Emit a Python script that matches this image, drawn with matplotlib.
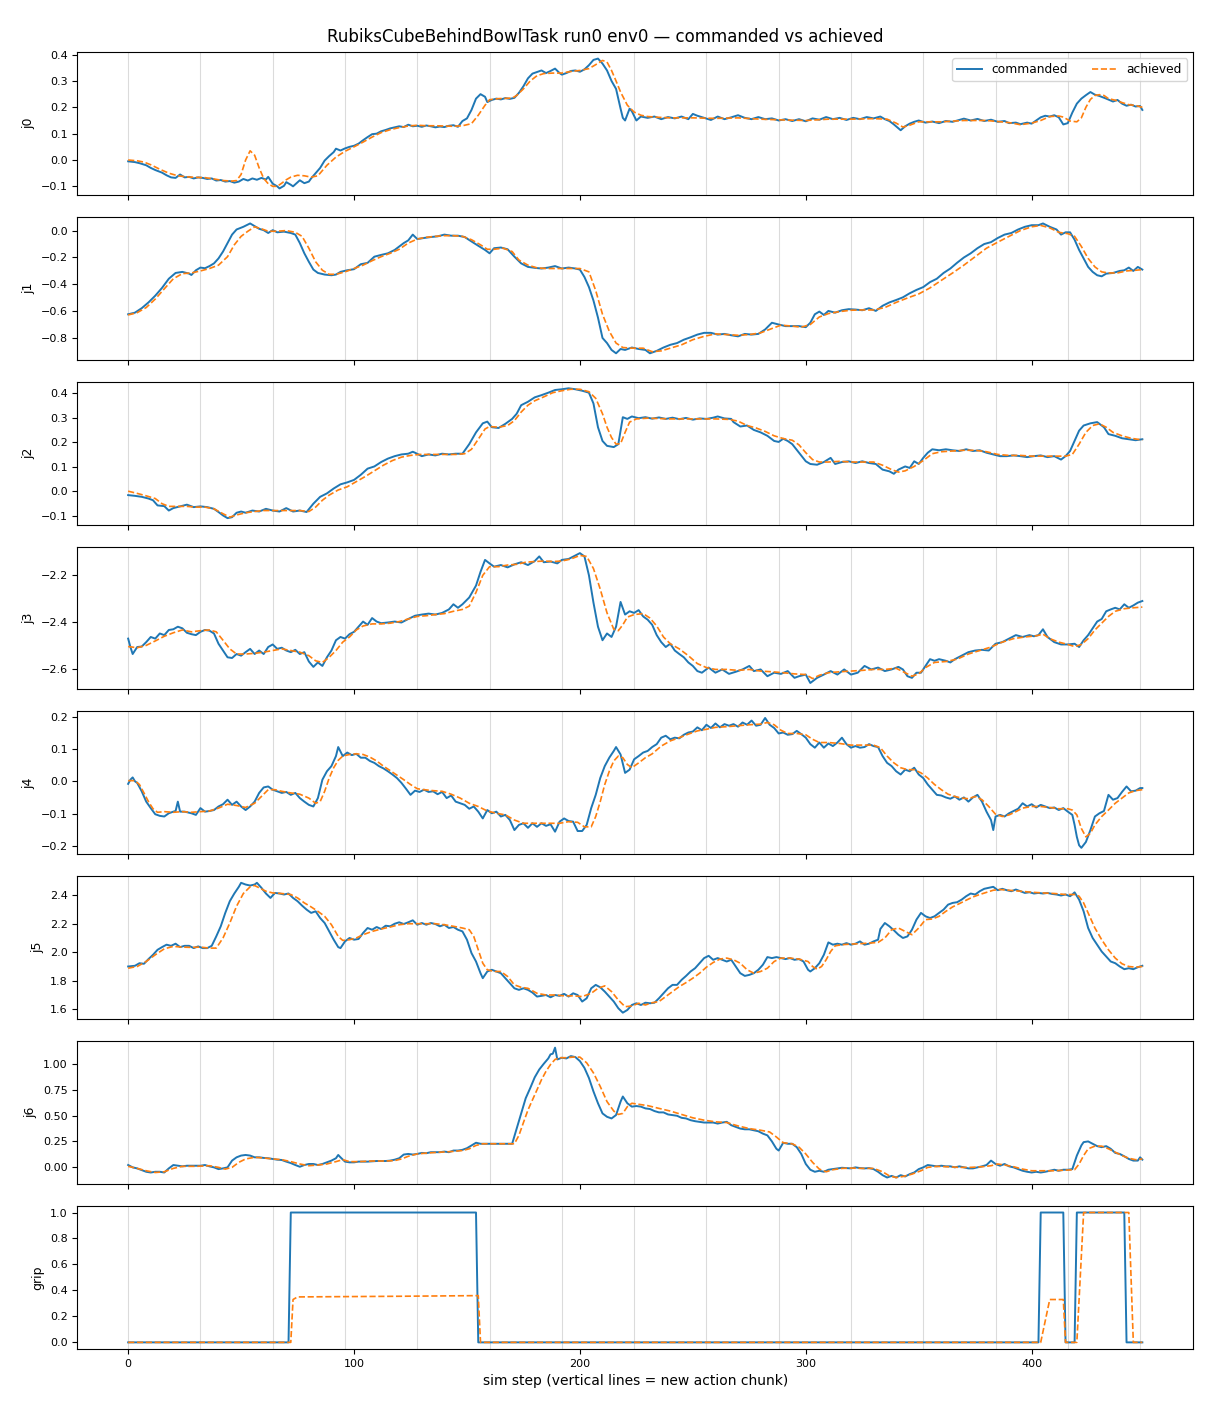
import matplotlib
matplotlib.use("Agg")
import matplotlib.pyplot as plt

# (sim step, value) pairs
j0_cmd = [(0,-0.005),(3,-0.008),(5,-0.012),(8,-0.02),(10,-0.03),(12,-0.038),(15,-0.048),(17,-0.058),(19,-0.066),(21,-0.068),(23,-0.055),(25,-0.066),(27,-0.064),(29,-0.07),(31,-0.066),(33,-0.068),(35,-0.072),(37,-0.07),(39,-0.078),(41,-0.076),(43,-0.082),(45,-0.08),(47,-0.086),(49,-0.082),(51,-0.072),(53,-0.078),(55,-0.07),(57,-0.075),(59,-0.068),(61,-0.074),(62,-0.064),(64,-0.09),(66,-0.1),(67,-0.108),(69,-0.098),(70,-0.084),(72,-0.094),(73,-0.1),(75,-0.085),(76,-0.077),(78,-0.088),(80,-0.082),(81,-0.07),(83,-0.05),(85,-0.03),(87,-0.002),(89,0.015),(91,0.03),(92,0.043),(94,0.036),(96,0.044),(98,0.05),(100,0.054),(102,0.062),(104,0.075),(106,0.087),(108,0.098),(110,0.1),(112,0.109),(114,0.114),(116,0.12),(118,0.124),(120,0.128),(122,0.125),(124,0.134),(126,0.128),(128,0.13),(130,0.126),(132,0.131),(134,0.128),(136,0.124),(138,0.127),(140,0.125),(142,0.13),(144,0.132),(146,0.126),(148,0.148),(150,0.158),(152,0.19),(154,0.233),(156,0.25),(158,0.24),(159,0.22),(161,0.228),(163,0.233),(165,0.23),(167,0.235),(169,0.232),(171,0.236),(173,0.255),(175,0.28),(177,0.31),(179,0.328),(181,0.334),(183,0.34),(185,0.33),(187,0.338),(189,0.347),(191,0.33),(192,0.324),(194,0.33),(196,0.338),(198,0.34),(200,0.335),(202,0.344),(204,0.36),(206,0.38),(208,0.385),(210,0.366),(212,0.34),(214,0.3),(216,0.27),(218,0.195),(219,0.16),(220,0.15),(222,0.195),(223,0.185),(225,0.15),(227,0.165),(230,0.16),(233,0.165),(236,0.155),(239,0.163),(242,0.158),(245,0.165),(248,0.155),(250,0.175),(252,0.168),(255,0.16),(258,0.152),(261,0.165),(264,0.155),(267,0.162),(270,0.17),(273,0.16),(276,0.155),(279,0.163),(282,0.155),(285,0.158),(288,0.15),(291,0.155),(294,0.148),(297,0.155),(300,0.147),(303,0.158),(306,0.153),(309,0.163),(312,0.155),(315,0.16),(318,0.152),(321,0.16),(324,0.155),(327,0.163),(330,0.158),(333,0.165),(335,0.155),(337,0.148),(339,0.135),(341,0.12),(342,0.113),(344,0.128),(346,0.138),(348,0.145),(350,0.15),(353,0.142),(356,0.146),(359,0.14),(362,0.148),(365,0.145),(368,0.152),(370,0.157),(373,0.15),(376,0.156),(379,0.148),(382,0.153),(385,0.145),(388,0.148),(390,0.14),(393,0.142),(395,0.136),(398,0.142),(400,0.138),(402,0.15),(404,0.162),(406,0.168),(408,0.165),(410,0.17),(412,0.162),(414,0.135),(416,0.14),(418,0.18),(420,0.214),(422,0.233),(424,0.246),(426,0.258),(428,0.248),(430,0.243),(433,0.233),(436,0.222),(438,0.228),(440,0.214),(442,0.206),(444,0.21),(446,0.203),(448,0.205),(449,0.19)]
j0_ach = [(0,0.0),(4,-0.003),(7,-0.008),(10,-0.018),(14,-0.035),(18,-0.05),(22,-0.06),(26,-0.064),(30,-0.066),(34,-0.067),(38,-0.072),(42,-0.078),(46,-0.08),(48,-0.078),(50,-0.055),(52,0.0),(54,0.035),(56,0.018),(58,-0.03),(60,-0.07),(62,-0.09),(64,-0.1),(66,-0.1),(68,-0.088),(70,-0.075),(72,-0.065),(75,-0.058),(78,-0.06),(81,-0.065),(84,-0.06),(86,-0.04),(88,-0.02),(92,0.011),(96,0.033),(100,0.05),(104,0.068),(108,0.087),(112,0.104),(116,0.115),(120,0.123),(124,0.129),(128,0.132),(132,0.13),(136,0.13),(140,0.129),(144,0.128),(148,0.13),(152,0.138),(155,0.17),(158,0.208),(160,0.229),(164,0.233),(170,0.235),(172,0.245),(175,0.27),(178,0.3),(181,0.32),(184,0.328),(188,0.33),(192,0.33),(196,0.336),(200,0.34),(204,0.347),(207,0.362),(210,0.378),(212,0.372),(214,0.34),(216,0.3),(218,0.258),(221,0.208),(224,0.182),(227,0.17),(230,0.165),(235,0.162),(240,0.16),(250,0.16),(260,0.158),(270,0.16),(280,0.155),(290,0.152),(300,0.15),(310,0.155),(320,0.155),(330,0.157),(336,0.155),(340,0.14),(343,0.125),(346,0.132),(350,0.145),(355,0.145),(360,0.145),(370,0.15),(380,0.15),(390,0.142),(395,0.134),(400,0.14),(404,0.15),(408,0.165),(412,0.167),(414,0.163),(417,0.148),(420,0.145),(422,0.16),(424,0.2),(426,0.23),(428,0.245),(430,0.248),(432,0.245),(434,0.233),(437,0.227),(440,0.218),(443,0.21),(446,0.207),(449,0.2)]

j1_cmd = [(0,-0.622),(3,-0.61),(6,-0.577),(9,-0.534),(12,-0.484),(15,-0.426),(18,-0.358),(21,-0.315),(24,-0.307),(27,-0.32),(28,-0.33),(30,-0.295),(32,-0.275),(34,-0.28),(36,-0.264),(38,-0.244),(40,-0.207),(42,-0.156),(44,-0.093),(46,-0.03),(48,0.008),(51,0.028),(54,0.053),(56,0.033),(58,0.013),(60,0.003),(62,-0.018),(64,0.003),(66,-0.013),(69,-0.008),(72,-0.018),(74,-0.03),(76,-0.093),(78,-0.169),(80,-0.232),(82,-0.29),(84,-0.315),(87,-0.327),(90,-0.332),(92,-0.327),(94,-0.307),(97,-0.295),(100,-0.287),(103,-0.25),(106,-0.24),(109,-0.194),(112,-0.181),(115,-0.169),(118,-0.144),(120,-0.118),(122,-0.093),(124,-0.073),(126,-0.03),(128,-0.063),(131,-0.055),(134,-0.048),(137,-0.043),(140,-0.03),(143,-0.038),(146,-0.038),(149,-0.048),(152,-0.081),(155,-0.113),(158,-0.144),(160,-0.169),(162,-0.131),(165,-0.126),(168,-0.139),(171,-0.194),(174,-0.244),(177,-0.27),(180,-0.277),(183,-0.282),(186,-0.275),(189,-0.264),(192,-0.282),(195,-0.275),(198,-0.282),(200,-0.29),(202,-0.345),(204,-0.42),(206,-0.52),(208,-0.647),(210,-0.798),(212,-0.836),(214,-0.887),(216,-0.912),(218,-0.88),(220,-0.887),(223,-0.869),(226,-0.88),(229,-0.887),(231,-0.912),(234,-0.894),(237,-0.869),(240,-0.849),(243,-0.836),(246,-0.811),(249,-0.793),(252,-0.773),(255,-0.76),(258,-0.76),(261,-0.773),(264,-0.768),(267,-0.778),(270,-0.786),(273,-0.768),(276,-0.773),(279,-0.768),(282,-0.735),(285,-0.685),(288,-0.698),(291,-0.71),(294,-0.71),(297,-0.71),(300,-0.718),(302,-0.685),(304,-0.622),(306,-0.602),(308,-0.627),(310,-0.597),(313,-0.61),(316,-0.592),(319,-0.584),(322,-0.587),(325,-0.592),(328,-0.577),(331,-0.597),(334,-0.559),(337,-0.534),(340,-0.516),(343,-0.496),(346,-0.466),(349,-0.441),(352,-0.42),(355,-0.383),(358,-0.358),(361,-0.315),(364,-0.282),(367,-0.239),(370,-0.2),(373,-0.169),(376,-0.131),(379,-0.1),(382,-0.086),(385,-0.055),(388,-0.03),(391,-0.018),(394,0.008),(397,0.028),(400,0.04),(403,0.04),(405,0.053),(408,0.028),(411,0.008),(413,-0.03),(415,-0.013),(417,-0.013),(419,-0.068),(421,-0.144),(423,-0.207),(425,-0.27),(427,-0.307),(429,-0.332),(431,-0.34),(433,-0.32),(436,-0.315),(439,-0.3),(441,-0.295),(443,-0.275),(445,-0.3),(447,-0.27),(449,-0.29)]
j1_ach = [(0,-0.627),(4,-0.61),(8,-0.572),(12,-0.509),(16,-0.433),(20,-0.358),(24,-0.32),(28,-0.315),(32,-0.3),(36,-0.282),(40,-0.257),(44,-0.194),(47,-0.106),(50,-0.043),(53,-0.005),(56,0.028),(59,0.013),(62,-0.005),(66,-0.005),(70,0.0),(74,-0.013),(77,-0.043),(80,-0.131),(83,-0.232),(86,-0.295),(89,-0.325),(92,-0.325),(96,-0.307),(100,-0.282),(104,-0.257),(108,-0.224),(112,-0.194),(116,-0.169),(120,-0.139),(124,-0.093),(128,-0.063),(132,-0.05),(136,-0.043),(140,-0.038),(144,-0.038),(148,-0.043),(152,-0.068),(156,-0.106),(159,-0.139),(162,-0.139),(166,-0.131),(170,-0.156),(173,-0.219),(177,-0.257),(181,-0.277),(185,-0.282),(190,-0.282),(195,-0.282),(200,-0.282),(204,-0.307),(207,-0.446),(210,-0.622),(213,-0.748),(216,-0.836),(219,-0.869),(223,-0.874),(228,-0.874),(232,-0.9),(236,-0.894),(240,-0.874),(245,-0.849),(250,-0.811),(255,-0.786),(260,-0.768),(265,-0.773),(270,-0.778),(275,-0.773),(280,-0.76),(285,-0.728),(289,-0.703),(294,-0.71),(298,-0.718),(302,-0.698),(306,-0.642),(310,-0.617),(315,-0.602),(320,-0.592),(325,-0.59),(330,-0.59),(335,-0.572),(340,-0.534),(345,-0.501),(350,-0.471),(355,-0.426),(360,-0.37),(365,-0.315),(370,-0.257),(375,-0.194),(380,-0.131),(385,-0.086),(390,-0.043),(395,0.0),(400,0.028),(404,0.038),(408,0.02),(412,-0.013),(416,-0.023),(419,-0.043),(422,-0.118),(425,-0.207),(428,-0.27),(431,-0.307),(434,-0.315),(438,-0.315),(442,-0.3),(446,-0.295),(449,-0.29)]

j2_cmd = [(0,-0.015),(3,-0.018),(6,-0.022),(9,-0.029),(11,-0.036),(13,-0.057),(16,-0.06),(18,-0.078),(20,-0.068),(23,-0.061),(26,-0.054),(29,-0.064),(32,-0.061),(35,-0.064),(38,-0.071),(40,-0.084),(42,-0.098),(44,-0.109),(46,-0.105),(48,-0.087),(50,-0.082),(52,-0.087),(55,-0.078),(58,-0.082),(61,-0.071),(64,-0.078),(67,-0.082),(70,-0.068),(73,-0.082),(76,-0.078),(79,-0.084),(82,-0.05),(85,-0.022),(88,-0.008),(91,0.012),(94,0.029),(97,0.037),(100,0.047),(103,0.068),(106,0.093),(109,0.102),(112,0.12),(115,0.134),(118,0.144),(121,0.151),(124,0.154),(126,0.162),(127,0.158),(130,0.144),(133,0.151),(136,0.147),(139,0.154),(142,0.151),(145,0.154),(148,0.154),(151,0.193),(154,0.241),(157,0.278),(159,0.285),(161,0.262),(164,0.259),(167,0.276),(170,0.296),(172,0.317),(174,0.352),(177,0.366),(180,0.384),(183,0.393),(186,0.403),(189,0.414),(192,0.417),(195,0.421),(198,0.417),(201,0.411),(204,0.403),(206,0.359),(208,0.262),(210,0.206),(212,0.186),(215,0.181),(217,0.193),(219,0.303),(221,0.296),(223,0.306),(226,0.299),(229,0.303),(232,0.297),(235,0.302),(238,0.296),(241,0.301),(244,0.295),(247,0.3),(250,0.293),(253,0.298),(256,0.296),(259,0.301),(261,0.306),(264,0.298),(267,0.296),(268,0.283),(271,0.265),(274,0.269),(277,0.251),(280,0.241),(283,0.227),(286,0.206),(288,0.202),(290,0.215),(292,0.206),(294,0.193),(297,0.158),(300,0.123),(302,0.112),(305,0.109),(308,0.12),(311,0.137),(313,0.112),(316,0.12),(319,0.123),(322,0.116),(325,0.123),(328,0.116),(331,0.112),(334,0.089),(337,0.082),(339,0.072),(341,0.089),(344,0.102),(346,0.096),(348,0.123),(350,0.112),(352,0.137),(354,0.158),(356,0.172),(359,0.168),(362,0.172),(365,0.168),(368,0.165),(371,0.172),(374,0.165),(377,0.168),(380,0.158),(383,0.151),(386,0.144),(389,0.144),(392,0.147),(395,0.144),(398,0.14),(401,0.144),(404,0.147),(407,0.14),(410,0.144),(413,0.13),(415,0.144),(417,0.165),(419,0.206),(421,0.248),(423,0.269),(426,0.278),(429,0.283),(432,0.262),(434,0.234),(437,0.227),(440,0.217),(443,0.213),(446,0.209),(449,0.213)]
j2_ach = [(0,0.001),(4,-0.008),(8,-0.018),(12,-0.029),(15,-0.05),(18,-0.061),(22,-0.061),(26,-0.061),(30,-0.064),(34,-0.064),(38,-0.071),(42,-0.091),(45,-0.105),(48,-0.096),(52,-0.087),(56,-0.082),(60,-0.078),(64,-0.078),(68,-0.078),(72,-0.078),(76,-0.078),(80,-0.082),(83,-0.064),(86,-0.036),(89,-0.015),(93,0.006),(97,0.019),(101,0.04),(105,0.061),(109,0.084),(113,0.107),(117,0.126),(121,0.14),(125,0.147),(129,0.151),(133,0.151),(137,0.151),(141,0.151),(145,0.151),(149,0.154),(152,0.172),(155,0.213),(158,0.255),(160,0.265),(164,0.262),(168,0.269),(171,0.289),(174,0.324),(177,0.352),(180,0.37),(184,0.386),(188,0.403),(192,0.411),(196,0.417),(200,0.417),(204,0.407),(207,0.38),(210,0.317),(212,0.262),(214,0.22),(216,0.193),(218,0.195),(220,0.241),(222,0.283),(225,0.296),(230,0.299),(240,0.296),(250,0.296),(260,0.296),(266,0.294),(270,0.287),(274,0.269),(278,0.259),(282,0.245),(286,0.227),(290,0.216),(294,0.209),(297,0.19),(300,0.158),(303,0.13),(306,0.12),(310,0.12),(315,0.123),(320,0.12),(325,0.12),(330,0.12),(334,0.107),(338,0.089),(341,0.079),(344,0.084),(348,0.102),(352,0.126),(356,0.154),(360,0.162),(365,0.165),(370,0.168),(375,0.168),(380,0.162),(385,0.151),(390,0.147),(395,0.147),(400,0.144),(405,0.144),(410,0.144),(415,0.144),(418,0.151),(421,0.193),(424,0.241),(427,0.269),(430,0.276),(433,0.262),(436,0.241),(440,0.227),(444,0.217),(449,0.21)]

j3_cmd = [(0,-2.471),(1,-2.507),(2,-2.537),(4,-2.507),(6,-2.505),(8,-2.486),(10,-2.464),(12,-2.471),(14,-2.449),(16,-2.456),(18,-2.434),(20,-2.431),(22,-2.42),(24,-2.427),(26,-2.446),(28,-2.452),(30,-2.456),(32,-2.442),(34,-2.434),(36,-2.437),(38,-2.449),(40,-2.493),(42,-2.522),(44,-2.551),(46,-2.554),(48,-2.537),(50,-2.544),(52,-2.529),(54,-2.515),(56,-2.537),(58,-2.522),(60,-2.537),(62,-2.507),(64,-2.496),(66,-2.515),(68,-2.51),(70,-2.522),(72,-2.529),(74,-2.519),(76,-2.537),(78,-2.529),(80,-2.569),(82,-2.592),(84,-2.573),(86,-2.588),(88,-2.551),(90,-2.522),(92,-2.478),(94,-2.464),(96,-2.471),(98,-2.452),(100,-2.442),(102,-2.42),(104,-2.398),(106,-2.412),(108,-2.383),(110,-2.398),(112,-2.405),(115,-2.402),(118,-2.398),(121,-2.402),(124,-2.387),(127,-2.373),(130,-2.368),(133,-2.364),(136,-2.368),(139,-2.361),(142,-2.346),(144,-2.324),(146,-2.339),(148,-2.324),(151,-2.295),(154,-2.244),(156,-2.185),(158,-2.134),(160,-2.149),(162,-2.163),(165,-2.156),(168,-2.166),(171,-2.153),(174,-2.144),(177,-2.156),(180,-2.139),(182,-2.119),(184,-2.144),(187,-2.141),(190,-2.149),(192,-2.134),(195,-2.13),(198,-2.115),(200,-2.105),(202,-2.119),(204,-2.2),(206,-2.317),(208,-2.42),(210,-2.478),(212,-2.449),(214,-2.464),(216,-2.42),(218,-2.314),(220,-2.368),(222,-2.354),(224,-2.361),(226,-2.349),(228,-2.376),(230,-2.39),(232,-2.412),(234,-2.456),(236,-2.486),(238,-2.507),(240,-2.493),(242,-2.522),(244,-2.537),(246,-2.551),(248,-2.573),(250,-2.588),(252,-2.61),(254,-2.617),(257,-2.595),(260,-2.617),(263,-2.603),(266,-2.622),(269,-2.613),(272,-2.603),(275,-2.588),(277,-2.61),(280,-2.603),(283,-2.632),(286,-2.617),(289,-2.622),(292,-2.61),(295,-2.639),(297,-2.632),(300,-2.625),(302,-2.661),(305,-2.639),(308,-2.625),(311,-2.61),(314,-2.625),(317,-2.603),(320,-2.625),(323,-2.617),(326,-2.588),(329,-2.603),(332,-2.595),(335,-2.61),(338,-2.603),(341,-2.592),(343,-2.603),(345,-2.632),(347,-2.639),(349,-2.617),(351,-2.617),(353,-2.588),(355,-2.559),(357,-2.566),(359,-2.559),(362,-2.566),(364,-2.573),(366,-2.559),(369,-2.544),(372,-2.529),(375,-2.522),(378,-2.519),(381,-2.522),(384,-2.493),(387,-2.486),(390,-2.471),(393,-2.456),(396,-2.464),(399,-2.456),(401,-2.461),(403,-2.456),(405,-2.431),(407,-2.464),(410,-2.486),(413,-2.496),(416,-2.496),(419,-2.493),(421,-2.507),(423,-2.478),(425,-2.456),(427,-2.427),(429,-2.398),(431,-2.387),(433,-2.354),(435,-2.346),(437,-2.339),(439,-2.346),(441,-2.324),(443,-2.339),(445,-2.329),(447,-2.317),(449,-2.31)]
j3_ach = [(0,-2.505),(4,-2.51),(8,-2.5),(12,-2.481),(16,-2.461),(20,-2.446),(24,-2.434),(28,-2.442),(32,-2.437),(36,-2.434),(39,-2.442),(42,-2.478),(45,-2.515),(48,-2.537),(52,-2.537),(56,-2.534),(60,-2.529),(64,-2.522),(68,-2.515),(72,-2.522),(76,-2.529),(80,-2.544),(83,-2.566),(86,-2.573),(89,-2.551),(92,-2.522),(95,-2.486),(98,-2.464),(101,-2.434),(104,-2.417),(108,-2.408),(112,-2.408),(116,-2.405),(120,-2.398),(124,-2.387),(128,-2.376),(132,-2.373),(136,-2.368),(140,-2.364),(144,-2.354),(148,-2.346),(151,-2.332),(154,-2.273),(157,-2.2),(160,-2.163),(164,-2.163),(168,-2.156),(172,-2.153),(176,-2.144),(180,-2.141),(184,-2.139),(188,-2.141),(192,-2.139),(196,-2.13),(200,-2.115),(203,-2.119),(206,-2.171),(209,-2.259),(212,-2.361),(215,-2.431),(217,-2.437),(219,-2.412),(221,-2.379),(224,-2.368),(228,-2.364),(231,-2.383),(234,-2.417),(237,-2.464),(240,-2.493),(244,-2.515),(248,-2.544),(252,-2.578),(256,-2.595),(260,-2.603),(265,-2.603),(270,-2.607),(275,-2.603),(280,-2.61),(285,-2.613),(290,-2.617),(295,-2.622),(300,-2.625),(303,-2.642),(306,-2.628),(310,-2.617),(315,-2.613),(320,-2.61),(325,-2.607),(330,-2.603),(335,-2.603),(340,-2.598),(344,-2.617),(347,-2.632),(350,-2.622),(353,-2.595),(357,-2.573),(362,-2.569),(367,-2.559),(372,-2.537),(377,-2.522),(382,-2.507),(387,-2.486),(392,-2.471),(397,-2.464),(402,-2.459),(405,-2.452),(408,-2.471),(412,-2.486),(416,-2.496),(419,-2.505),(422,-2.496),(425,-2.471),(428,-2.434),(431,-2.405),(434,-2.376),(437,-2.354),(441,-2.343),(445,-2.339),(449,-2.336)]

j4_cmd = [(0,-0.008),(1,0.005),(2,0.012),(3,0.0),(4,-0.005),(6,-0.031),(8,-0.063),(10,-0.083),(12,-0.102),(14,-0.107),(16,-0.109),(18,-0.099),(20,-0.094),(21,-0.092),(22,-0.063),(23,-0.094),(25,-0.094),(28,-0.099),(30,-0.104),(32,-0.083),(34,-0.094),(36,-0.092),(38,-0.089),(40,-0.078),(42,-0.071),(44,-0.057),(46,-0.073),(48,-0.063),(50,-0.078),(52,-0.089),(54,-0.078),(56,-0.063),(58,-0.036),(60,-0.019),(62,-0.016),(64,-0.026),(66,-0.031),(68,-0.036),(70,-0.033),(72,-0.042),(74,-0.036),(76,-0.052),(78,-0.063),(80,-0.073),(82,-0.078),(84,-0.052),(86,0.005),(88,0.031),(90,0.047),(92,0.078),(93,0.106),(95,0.078),(97,0.089),(99,0.081),(101,0.085),(103,0.073),(105,0.073),(107,0.063),(109,0.057),(111,0.047),(113,0.04),(115,0.031),(117,0.021),(119,0.01),(121,-0.005),(123,-0.023),(125,-0.042),(127,-0.029),(129,-0.033),(131,-0.026),(133,-0.033),(135,-0.031),(137,-0.04),(139,-0.033),(141,-0.052),(143,-0.044),(145,-0.063),(147,-0.068),(149,-0.073),(151,-0.085),(153,-0.078),(155,-0.094),(157,-0.115),(159,-0.089),(161,-0.099),(163,-0.094),(165,-0.109),(167,-0.104),(169,-0.12),(171,-0.151),(173,-0.135),(175,-0.13),(177,-0.144),(179,-0.13),(181,-0.141),(183,-0.13),(185,-0.138),(187,-0.133),(189,-0.156),(191,-0.125),(193,-0.115),(195,-0.123),(197,-0.125),(199,-0.154),(201,-0.154),(203,-0.135),(205,-0.083),(207,-0.042),(209,0.01),(211,0.047),(213,0.073),(215,0.094),(216,0.106),(218,0.083),(220,0.026),(222,0.036),(224,0.068),(226,0.078),(228,0.089),(230,0.094),(232,0.106),(234,0.115),(236,0.135),(238,0.141),(240,0.13),(242,0.135),(244,0.133),(246,0.144),(248,0.151),(250,0.154),(252,0.167),(254,0.158),(256,0.175),(258,0.165),(260,0.179),(262,0.167),(264,0.177),(266,0.172),(268,0.177),(270,0.169),(272,0.182),(274,0.175),(276,0.188),(278,0.172),(280,0.175),(282,0.196),(284,0.175),(286,0.165),(288,0.148),(290,0.151),(292,0.144),(294,0.146),(296,0.156),(298,0.146),(300,0.135),(302,0.115),(304,0.104),(306,0.12),(308,0.104),(310,0.117),(312,0.109),(314,0.12),(316,0.135),(318,0.115),(320,0.104),(322,0.109),(324,0.104),(326,0.106),(328,0.115),(330,0.109),(332,0.106),(334,0.078),(336,0.057),(338,0.047),(340,0.031),(342,0.021),(344,0.036),(346,0.031),(348,0.042),(350,0.021),(352,0.01),(354,-0.01),(356,-0.026),(358,-0.042),(360,-0.044),(362,-0.05),(364,-0.054),(366,-0.047),(368,-0.057),(370,-0.05),(372,-0.063),(374,-0.05),(376,-0.042),(378,-0.063),(380,-0.094),(382,-0.12),(383,-0.151),(384,-0.109),(386,-0.104),(388,-0.109),(390,-0.099),(392,-0.092),(394,-0.085),(396,-0.068),(398,-0.078),(400,-0.071),(402,-0.081),(404,-0.073),(406,-0.078),(408,-0.083),(410,-0.081),(412,-0.089),(414,-0.083),(416,-0.094),(418,-0.104),(419,-0.135),(420,-0.172),(421,-0.198),(422,-0.206),(424,-0.188),(426,-0.151),(428,-0.109),(430,-0.099),(432,-0.092),(434,-0.042),(436,-0.057),(438,-0.052),(440,-0.033),(442,-0.016),(444,-0.031),(446,-0.029),(448,-0.021),(449,-0.021)]
j4_ach = [(0,0.002),(3,0.002),(5,-0.01),(7,-0.036),(9,-0.063),(11,-0.085),(13,-0.096),(16,-0.094),(20,-0.096),(24,-0.094),(28,-0.096),(32,-0.094),(36,-0.092),(40,-0.083),(44,-0.071),(48,-0.075),(52,-0.081),(56,-0.068),(59,-0.047),(62,-0.026),(65,-0.026),(68,-0.031),(72,-0.036),(76,-0.04),(80,-0.052),(83,-0.068),(85,-0.063),(87,-0.031),(89,0.01),(91,0.042),(93,0.065),(95,0.078),(98,0.083),(101,0.085),(104,0.083),(107,0.075),(110,0.063),(113,0.047),(116,0.033),(119,0.019),(122,0.005),(125,-0.01),(128,-0.023),(131,-0.026),(135,-0.029),(139,-0.031),(143,-0.04),(147,-0.052),(151,-0.068),(155,-0.078),(159,-0.092),(163,-0.099),(167,-0.104),(171,-0.12),(175,-0.13),(179,-0.13),(183,-0.13),(187,-0.13),(191,-0.13),(195,-0.125),(199,-0.127),(202,-0.141),(205,-0.141),(207,-0.109),(209,-0.063),(211,-0.01),(213,0.031),(215,0.063),(217,0.078),(219,0.073),(221,0.052),(223,0.042),(226,0.057),(229,0.073),(232,0.085),(236,0.109),(240,0.125),(244,0.135),(248,0.146),(252,0.156),(256,0.161),(260,0.167),(265,0.169),(270,0.172),(275,0.175),(280,0.177),(283,0.182),(286,0.175),(289,0.158),(292,0.148),(296,0.148),(300,0.144),(303,0.13),(306,0.12),(310,0.12),(315,0.117),(320,0.112),(325,0.112),(330,0.112),(333,0.104),(336,0.078),(339,0.057),(342,0.042),(345,0.036),(348,0.036),(351,0.026),(354,0.01),(357,-0.01),(360,-0.026),(363,-0.04),(366,-0.047),(369,-0.052),(372,-0.054),(375,-0.047),(378,-0.057),(381,-0.078),(384,-0.102),(387,-0.109),(390,-0.104),(393,-0.094),(396,-0.083),(400,-0.078),(404,-0.078),(408,-0.081),(412,-0.085),(416,-0.085),(418,-0.089),(420,-0.104),(422,-0.146),(424,-0.172),(426,-0.161),(428,-0.135),(431,-0.109),(434,-0.089),(437,-0.068),(440,-0.052),(443,-0.036),(446,-0.029),(449,-0.026)]

j5_cmd = [(0,1.9),(3,1.905),(5,1.923),(7,1.919),(9,1.952),(11,1.982),(13,2.017),(15,2.036),(17,2.053),(19,2.045),(21,2.06),(23,2.036),(25,2.045),(27,2.045),(29,2.029),(31,2.041),(33,2.029),(35,2.029),(37,2.045),(39,2.111),(41,2.182),(43,2.276),(45,2.358),(47,2.412),(49,2.459),(50,2.487),(52,2.475),(54,2.468),(56,2.475),(57,2.487),(59,2.452),(61,2.412),(63,2.381),(65,2.416),(67,2.412),(69,2.405),(71,2.412),(73,2.381),(75,2.358),(77,2.327),(79,2.299),(81,2.276),(83,2.287),(85,2.24),(87,2.205),(89,2.146),(91,2.088),(93,2.036),(94,2.029),(96,2.076),(98,2.1),(100,2.088),(102,2.093),(104,2.135),(106,2.17),(108,2.158),(110,2.177),(112,2.163),(114,2.186),(116,2.182),(118,2.2),(120,2.21),(122,2.198),(124,2.21),(126,2.224),(128,2.193),(130,2.205),(132,2.193),(134,2.205),(136,2.198),(138,2.182),(140,2.193),(142,2.17),(144,2.177),(146,2.158),(148,2.146),(150,2.088),(152,1.994),(154,1.935),(156,1.853),(157,1.818),(159,1.865),(161,1.877),(163,1.865),(165,1.853),(167,1.818),(169,1.783),(171,1.747),(173,1.736),(175,1.747),(177,1.736),(179,1.717),(181,1.689),(183,1.694),(185,1.7),(187,1.684),(189,1.7),(191,1.694),(193,1.708),(195,1.689),(197,1.712),(199,1.7),(201,1.654),(203,1.677),(205,1.747),(207,1.771),(209,1.754),(211,1.724),(213,1.689),(215,1.654),(217,1.607),(219,1.576),(221,1.595),(223,1.63),(225,1.642),(227,1.63),(229,1.646),(231,1.642),(233,1.646),(235,1.677),(237,1.712),(239,1.747),(241,1.771),(243,1.771),(245,1.806),(247,1.834),(249,1.865),(251,1.888),(253,1.923),(255,1.959),(257,1.975),(259,1.947),(261,1.959),(263,1.947),(265,1.935),(267,1.947),(269,1.9),(271,1.853),(273,1.834),(275,1.841),(277,1.853),(279,1.877),(281,1.912),(283,1.966),(285,1.959),(287,1.966),(289,1.959),(291,1.952),(293,1.959),(295,1.947),(297,1.952),(299,1.935),(301,1.877),(302,1.865),(304,1.888),(306,1.923),(308,1.982),(310,2.069),(312,2.053),(314,2.06),(316,2.053),(318,2.064),(320,2.053),(322,2.06),(324,2.076),(326,2.053),(328,2.06),(330,2.076),(332,2.088),(333,2.163),(335,2.205),(337,2.182),(339,2.154),(341,2.123),(343,2.1),(345,2.111),(347,2.158),(349,2.229),(351,2.276),(353,2.252),(355,2.24),(357,2.252),(359,2.276),(361,2.299),(363,2.334),(365,2.346),(367,2.351),(369,2.369),(371,2.393),(373,2.412),(375,2.405),(377,2.428),(379,2.445),(381,2.452),(383,2.459),(385,2.435),(387,2.445),(389,2.435),(391,2.428),(393,2.44),(395,2.428),(397,2.416),(399,2.421),(401,2.412),(403,2.416),(405,2.412),(407,2.416),(409,2.409),(411,2.405),(413,2.398),(415,2.405),(417,2.393),(418,2.405),(419,2.42),(421,2.369),(423,2.287),(425,2.17),(427,2.1),(429,2.053),(431,2.005),(433,1.97),(435,1.935),(437,1.923),(439,1.9),(441,1.881),(443,1.888),(445,1.881),(447,1.895),(449,1.905)]
j5_ach = [(0,1.888),(4,1.9),(8,1.935),(12,1.982),(16,2.024),(20,2.041),(24,2.036),(28,2.034),(32,2.036),(36,2.029),(39,2.029),(42,2.1),(45,2.205),(48,2.323),(51,2.412),(54,2.459),(56,2.468),(58,2.452),(61,2.428),(64,2.416),(68,2.412),(72,2.405),(75,2.381),(78,2.346),(81,2.318),(84,2.287),(87,2.252),(90,2.193),(93,2.111),(95,2.083),(98,2.088),(101,2.1),(104,2.123),(108,2.146),(112,2.163),(116,2.177),(120,2.193),(124,2.2),(128,2.2),(132,2.2),(136,2.2),(140,2.193),(144,2.182),(148,2.17),(151,2.158),(153,2.111),(155,2.017),(157,1.923),(159,1.877),(162,1.865),(165,1.865),(168,1.83),(171,1.771),(174,1.754),(177,1.747),(181,1.712),(185,1.7),(189,1.7),(193,1.694),(197,1.694),(201,1.689),(205,1.712),(208,1.747),(211,1.764),(214,1.724),(217,1.665),(220,1.618),(223,1.623),(226,1.642),(229,1.63),(232,1.646),(235,1.654),(238,1.689),(241,1.724),(244,1.759),(247,1.787),(250,1.818),(253,1.853),(256,1.895),(259,1.928),(262,1.952),(265,1.959),(268,1.947),(271,1.923),(274,1.877),(277,1.853),(280,1.865),(283,1.888),(286,1.935),(289,1.959),(293,1.959),(297,1.952),(301,1.935),(303,1.9),(305,1.881),(307,1.9),(309,1.947),(311,2.005),(313,2.045),(316,2.053),(320,2.057),(324,2.06),(328,2.064),(332,2.069),(335,2.1),(338,2.158),(341,2.17),(344,2.146),(347,2.123),(350,2.17),(353,2.229),(356,2.233),(359,2.252),(362,2.287),(365,2.318),(368,2.341),(371,2.365),(374,2.388),(377,2.405),(380,2.42),(383,2.435),(386,2.44),(390,2.435),(395,2.428),(400,2.421),(405,2.416),(410,2.412),(415,2.405),(419,2.405),(421,2.393),(423,2.346),(425,2.276),(428,2.17),(431,2.088),(434,2.017),(437,1.959),(440,1.919),(443,1.9),(446,1.895),(449,1.9)]

j6_cmd = [(0,0.02),(2,-0.003),(4,-0.013),(6,-0.03),(8,-0.046),(10,-0.053),(12,-0.046),(14,-0.046),(16,-0.053),(18,-0.013),(20,0.02),(22,0.013),(24,0.007),(26,0.013),(28,0.013),(30,0.013),(32,0.013),(34,0.02),(36,0.007),(38,-0.003),(40,-0.02),(42,-0.013),(44,-0.003),(46,0.063),(48,0.095),(50,0.112),(52,0.118),(54,0.112),(56,0.095),(58,0.095),(60,0.089),(62,0.086),(64,0.079),(66,0.072),(68,0.069),(70,0.053),(72,0.039),(74,0.02),(76,0.003),(78,0.02),(80,0.03),(82,0.03),(84,0.02),(86,0.03),(88,0.046),(90,0.063),(92,0.086),(93,0.118),(94,0.095),(96,0.053),(98,0.046),(100,0.046),(102,0.053),(104,0.053),(106,0.053),(108,0.056),(110,0.059),(112,0.059),(114,0.059),(116,0.063),(118,0.072),(120,0.086),(122,0.122),(124,0.128),(126,0.122),(128,0.128),(130,0.138),(132,0.135),(134,0.145),(136,0.145),(138,0.145),(140,0.151),(142,0.145),(144,0.161),(146,0.161),(148,0.168),(150,0.184),(152,0.211),(154,0.237),(156,0.227),(160,0.227),(164,0.227),(168,0.227),(170,0.227),(172,0.375),(174,0.523),(176,0.671),(178,0.77),(180,0.875),(182,0.951),(184,1.007),(186,1.059),(187,1.099),(188,1.105),(189,1.164),(190,1.049),(192,1.066),(194,1.059),(196,1.082),(198,1.072),(200,1.033),(202,0.967),(204,0.868),(206,0.737),(208,0.622),(210,0.523),(212,0.49),(214,0.474),(216,0.507),(218,0.638),(219,0.688),(221,0.622),(223,0.589),(225,0.595),(227,0.589),(229,0.572),(231,0.566),(233,0.546),(235,0.533),(237,0.533),(239,0.513),(241,0.507),(243,0.5),(245,0.48),(247,0.474),(249,0.457),(251,0.447),(253,0.441),(255,0.434),(257,0.434),(259,0.434),(261,0.424),(263,0.434),(265,0.441),(267,0.408),(269,0.391),(271,0.375),(273,0.368),(275,0.368),(277,0.359),(279,0.349),(281,0.326),(283,0.309),(285,0.25),(287,0.178),(288,0.161),(290,0.237),(292,0.227),(294,0.227),(296,0.194),(298,0.128),(300,0.03),(302,-0.026),(304,-0.046),(306,-0.036),(308,-0.046),(310,-0.026),(312,-0.02),(314,-0.013),(316,-0.007),(318,-0.01),(320,-0.013),(322,-0.003),(324,-0.01),(326,-0.013),(328,-0.01),(330,-0.02),(332,-0.046),(334,-0.079),(336,-0.102),(338,-0.086),(340,-0.102),(342,-0.079),(344,-0.092),(346,-0.069),(348,-0.053),(350,-0.02),(352,-0.003),(354,0.02),(356,0.013),(358,0.007),(360,0.013),(362,0.007),(364,0.007),(366,-0.003),(368,0.007),(370,-0.003),(372,-0.013),(374,-0.013),(376,-0.003),(378,0.007),(380,0.02),(382,0.063),(384,0.03),(386,0.013),(388,0.03),(390,0.007),(392,-0.003),(394,-0.02),(396,-0.036),(398,-0.046),(400,-0.053),(402,-0.046),(404,-0.053),(406,-0.046),(408,-0.036),(410,-0.026),(412,-0.036),(414,-0.026),(416,-0.026),(418,-0.02),(420,0.112),(422,0.211),(423,0.243),(425,0.25),(427,0.227),(429,0.204),(431,0.194),(433,0.204),(435,0.178),(437,0.138),(439,0.128),(441,0.105),(443,0.079),(445,0.063),(447,0.063),(448,0.095),(449,0.072)]
j6_ach = [(0,0.007),(4,-0.013),(8,-0.036),(12,-0.053),(16,-0.046),(20,-0.013),(24,0.007),(30,0.007),(36,0.013),(40,-0.003),(43,-0.02),(46,-0.003),(49,0.046),(52,0.079),(56,0.095),(60,0.089),(64,0.079),(68,0.072),(72,0.053),(76,0.03),(80,0.013),(84,0.02),(88,0.03),(92,0.053),(95,0.072),(98,0.053),(102,0.053),(108,0.059),(114,0.059),(118,0.063),(121,0.079),(124,0.105),(128,0.128),(133,0.138),(138,0.145),(143,0.151),(148,0.161),(151,0.178),(154,0.211),(157,0.227),(162,0.227),(168,0.227),(171,0.227),(173,0.309),(175,0.434),(177,0.556),(179,0.655),(181,0.753),(183,0.852),(185,0.934),(187,1.0),(189,1.049),(191,1.066),(194,1.066),(197,1.072),(200,1.072),(203,1.016),(206,0.918),(209,0.786),(212,0.638),(215,0.546),(217,0.513),(219,0.523),(221,0.589),(223,0.622),(226,0.612),(230,0.599),(235,0.572),(240,0.546),(245,0.513),(250,0.48),(255,0.457),(260,0.441),(265,0.434),(270,0.401),(275,0.375),(280,0.359),(284,0.342),(287,0.293),(290,0.237),(294,0.227),(297,0.194),(300,0.128),(303,0.046),(306,-0.02),(309,-0.046),(312,-0.026),(316,-0.013),(320,-0.01),(325,-0.013),(330,-0.013),(334,-0.046),(337,-0.086),(340,-0.102),(343,-0.092),(347,-0.069),(351,-0.036),(354,-0.003),(358,0.007),(363,0.003),(368,-0.003),(373,-0.003),(378,0.003),(382,0.013),(385,0.03),(388,0.02),(392,0.003),(396,-0.02),(400,-0.036),(405,-0.036),(410,-0.036),(415,-0.03),(419,-0.026),(421,0.03),(423,0.112),(425,0.178),(428,0.204),(431,0.204),(434,0.178),(437,0.145),(440,0.112),(443,0.086),(446,0.072),(449,0.079)]

grip_cmd = [(0,0.0),(71,0.0),(72,1.0),(154,1.0),(155,0.0),(403,0.0),(404,1.0),(414,1.0),(415,0.0),(419,0.0),(420,1.0),(441,1.0),(442,0.0),(449,0.0)]
grip_ach = [(0,0.0),(72,0.0),(73,0.33),(75,0.35),(120,0.355),(155,0.36),(156,0.0),(404,0.0),(408,0.33),(414,0.33),(415,0.0),(420,0.0),(423,1.0),(443,1.0),(445,0.0),(449,0.0)]

chunk_starts = [0, 32, 64, 96, 128, 160, 192, 224, 256, 288, 320, 352, 384, 416, 448]
joint_names = ["j0", "j1", "j2", "j3", "j4", "j5", "j6", "grip"]
series = [(j0_cmd, j0_ach), (j1_cmd, j1_ach), (j2_cmd, j2_ach), (j3_cmd, j3_ach),
          (j4_cmd, j4_ach), (j5_cmd, j5_ach), (j6_cmd, j6_ach), (grip_cmd, grip_ach)]

fig, axes = plt.subplots(8, 1, figsize=(12.1, 14.08), dpi=100, sharex=True)
fig.subplots_adjust(left=0.064, right=0.986, top=0.963, bottom=0.042, hspace=0.154)

for ax, name, (cmd, ach) in zip(axes, joint_names, series):
    for c in chunk_starts:
        ax.axvline(c, color="lightgray", lw=0.8, alpha=0.8, zorder=0)
    cx, cy = zip(*cmd)
    ax_, ay = zip(*ach)
    ax.plot(cx, cy, color="tab:blue", lw=1.4, label="commanded")
    ax.plot(ax_, ay, color="tab:orange", lw=1.2, ls="--", label="achieved")
    ax.set_ylabel(name, fontsize=9)
    ax.tick_params(labelsize=8)

axes[0].legend(loc="upper right", ncol=2, fontsize=8.8)
axes[-1].set_xlabel("sim step (vertical lines = new action chunk)", fontsize=10)
fig.suptitle("RubiksCubeBehindBowlTask run0 env0 — commanded vs achieved", fontsize=12, y=0.98)

fig.savefig("out.png", dpi=100)
